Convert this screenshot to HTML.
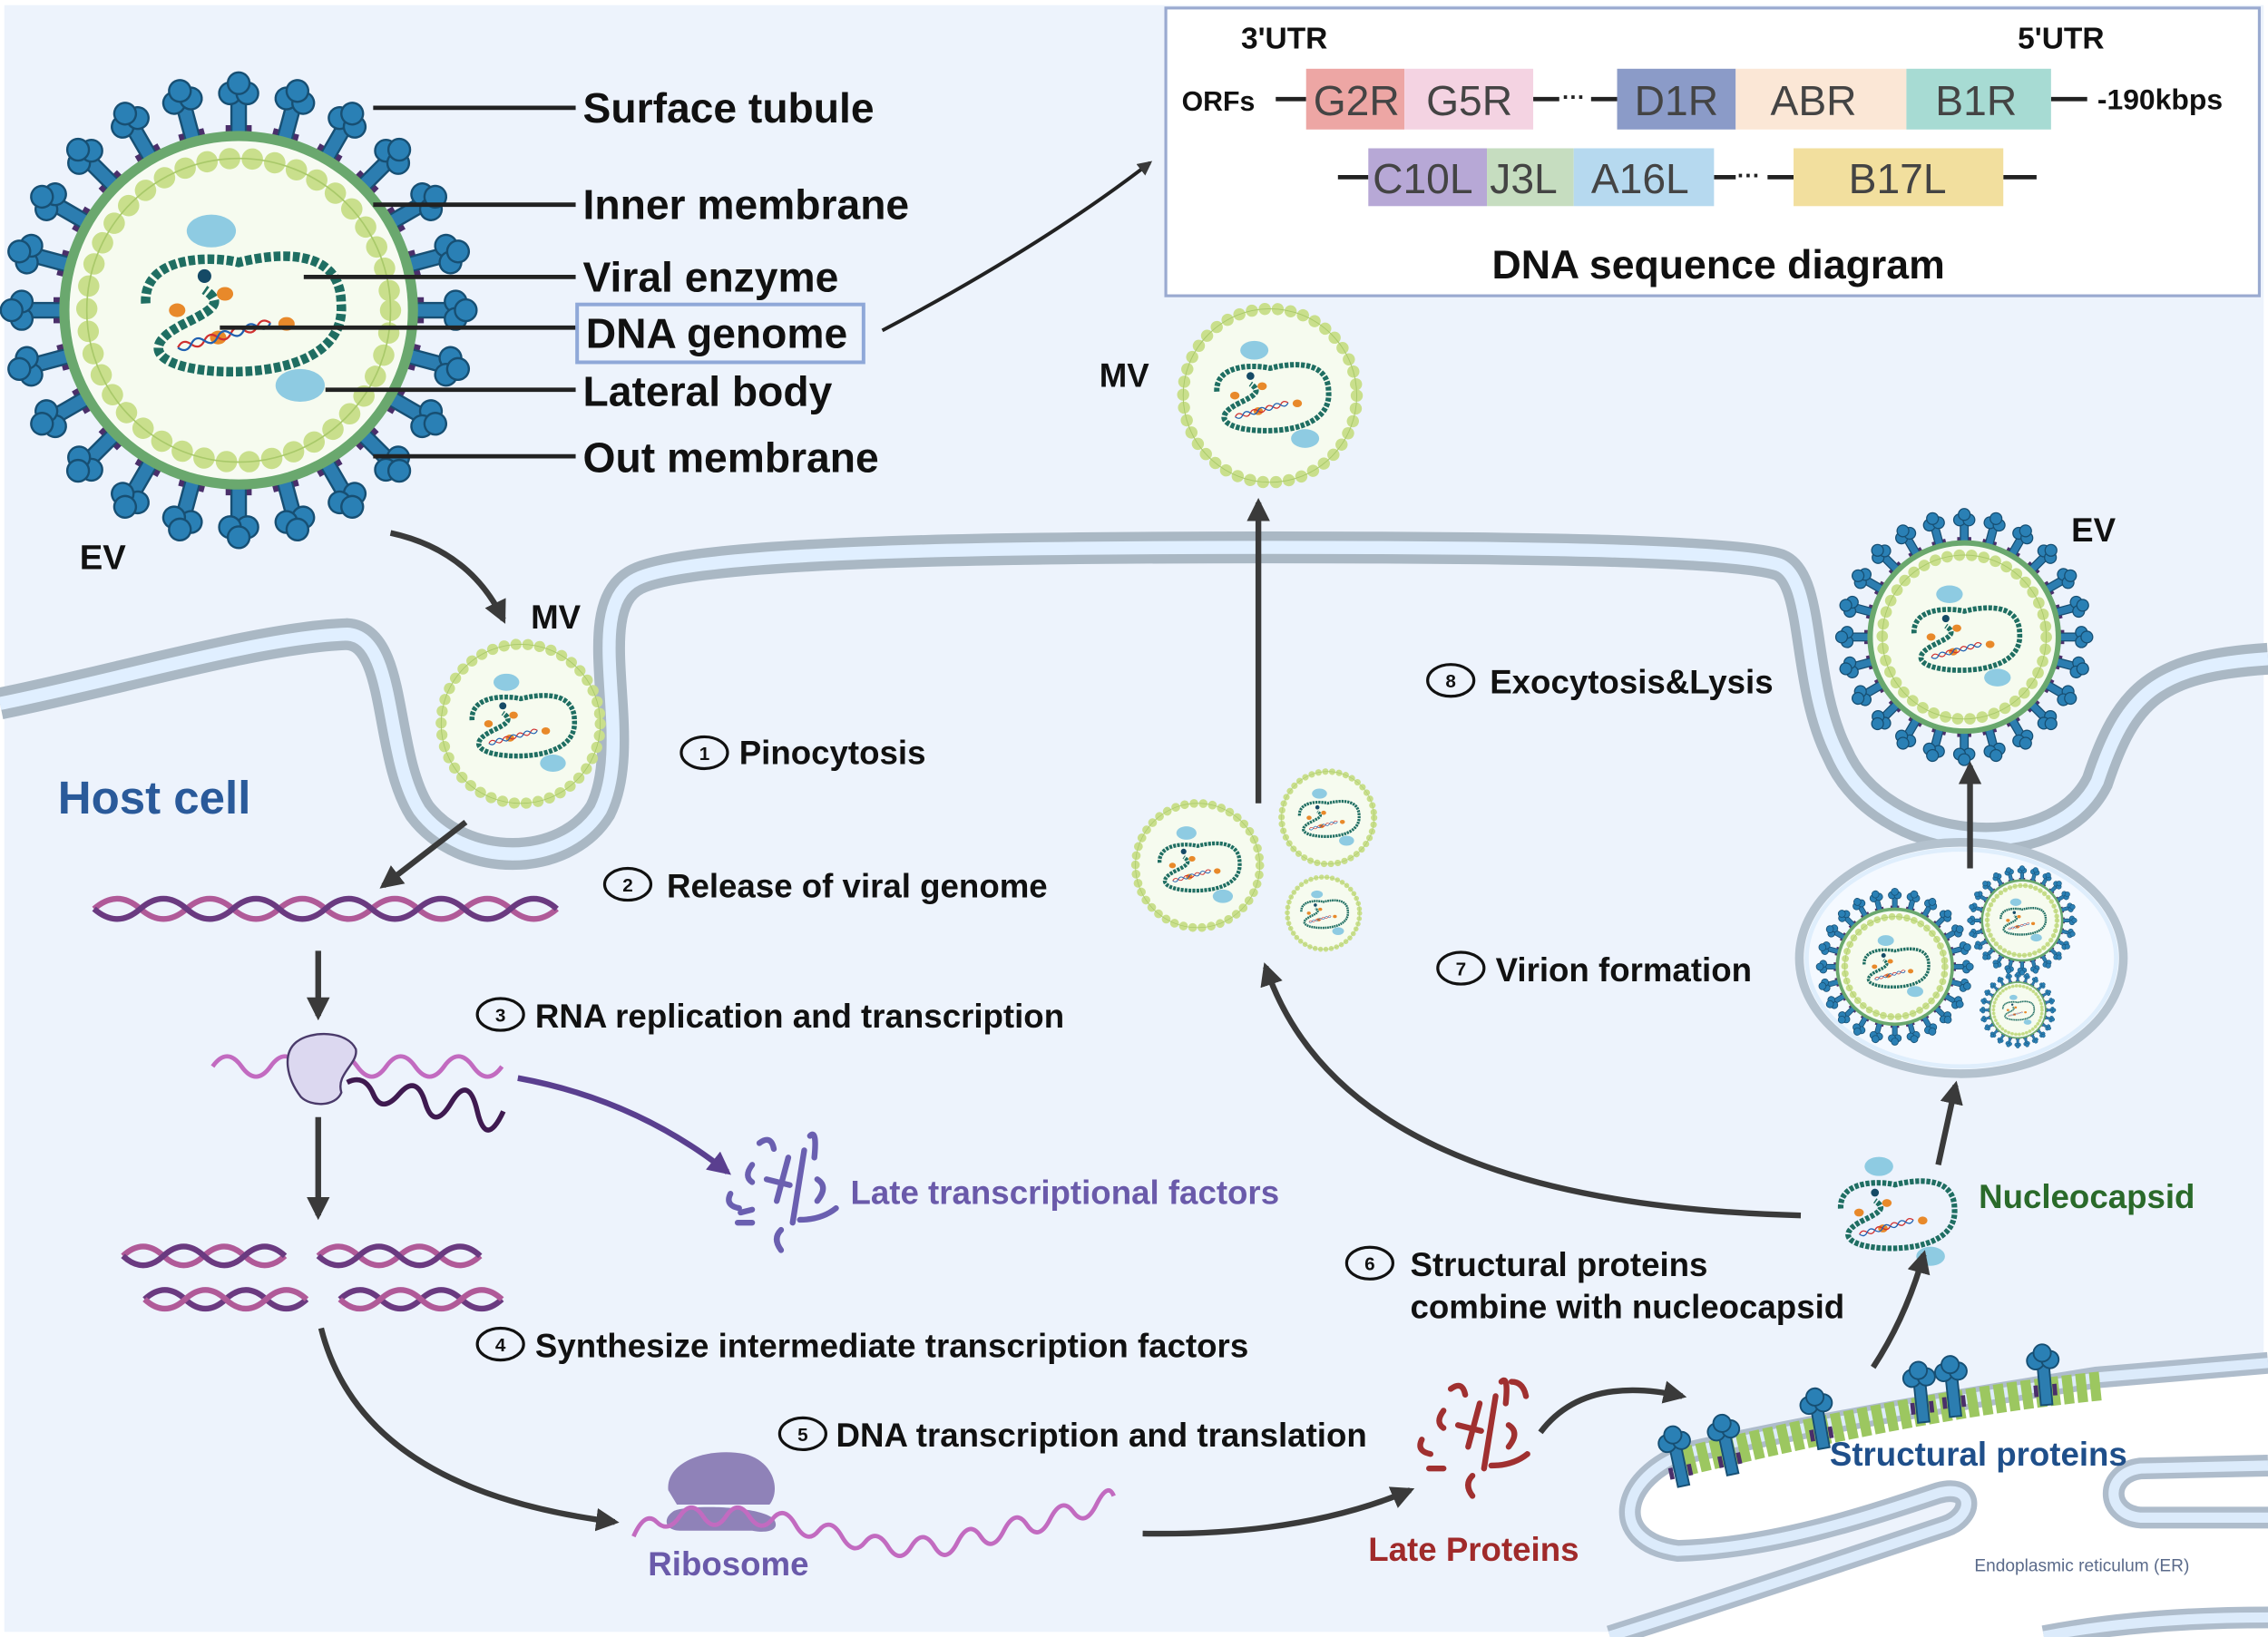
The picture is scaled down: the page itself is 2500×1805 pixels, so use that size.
<!DOCTYPE html>
<html><head><meta charset="utf-8"><style>
html,body{margin:0;padding:0;background:#fff;}
svg{display:block;}
text{font-family:"Liberation Sans",Arial,sans-serif;font-weight:bold;}
</style></head><body>
<svg width="2500" height="1805" viewBox="0 0 1568 1131" xmlns="http://www.w3.org/2000/svg">
<defs>
<marker id="ah" viewBox="0 0 10 10" refX="8" refY="5" markerWidth="4" markerHeight="4" orient="auto"><path d="M0 0L10 5L0 10z" fill="#3a3a3a"/></marker>
<marker id="ahp" viewBox="0 0 10 10" refX="8" refY="5" markerWidth="4" markerHeight="4" orient="auto"><path d="M0 0L10 5L0 10z" fill="#5a3f8f"/></marker>
<g id="sp">
<rect x="-5" y="-148" width="10" height="36" fill="#2c7db0" stroke="#174f73" stroke-width="1.5"/>
<rect x="-9" y="-128" width="3.5" height="8" fill="#4a2f6a"/><rect x="5.5" y="-128" width="3.5" height="8" fill="#4a2f6a"/>
<circle cx="-6" cy="-150" r="7.5" fill="#2a80b5" stroke="#174f73" stroke-width="1.5"/>
<circle cx="6" cy="-150" r="7.5" fill="#2a80b5" stroke="#174f73" stroke-width="1.5"/>
<circle cx="0" cy="-157" r="7.5" fill="#2a80b5" stroke="#174f73" stroke-width="1.5"/>
</g>
<g id="pr">
<rect x="-4" y="-28" width="8" height="28" fill="#2c7db0" stroke="#174f73" stroke-width="1.2"/>
<rect x="-8" y="-14" width="3" height="8" fill="#4a2f6a"/><rect x="5" y="-14" width="3" height="8" fill="#4a2f6a"/>
<circle cx="-5" cy="-31" r="6" fill="#2a80b5" stroke="#174f73" stroke-width="1.2"/>
<circle cx="5" cy="-31" r="6" fill="#2a80b5" stroke="#174f73" stroke-width="1.2"/>
<circle cx="0" cy="-36" r="6" fill="#2a80b5" stroke="#174f73" stroke-width="1.2"/>
</g>
<g id="core">
<path d="M-68 -5 C-70 -40 -20 -40 0 -35 C40 -45 75 -40 75 -5 C78 30 40 45 -5 45 C-50 45 -80 30 -40 10 C-20 0 -10 -5 -25 -15" fill="none" stroke="#1f6e62" stroke-width="7" stroke-dasharray="5 2"/>
<ellipse cx="-20" cy="-58" rx="18" ry="12" fill="#8ecbe2"/>
<ellipse cx="45" cy="55" rx="18" ry="12" fill="#8ecbe2"/>
<circle cx="-25" cy="-25" r="5" fill="#154a66"/>
<ellipse cx="-45" cy="0" rx="6" ry="5" fill="#e8892a"/><ellipse cx="-10" cy="-12" rx="6" ry="5" fill="#e8892a"/><ellipse cx="35" cy="10" rx="6" ry="5" fill="#e8892a"/><ellipse cx="-15" cy="20" rx="6" ry="5" fill="#e8892a"/>
<path d="M-50 15 q5 -6 10 0 t10 0 t10 0 t10 0 t10 0 t10 0 t10 0" transform="rotate(-15)" fill="none" stroke="#d03030" stroke-width="1.5"/>
<path d="M-50 15 q5 6 10 0 t10 0 t10 0 t10 0 t10 0 t10 0 t10 0" transform="rotate(-15)" fill="none" stroke="#2060b0" stroke-width="1.5"/>
</g>
<g id="mv">
<circle r="100" fill="#f6fbef"/>
<circle r="100" fill="none" stroke="#c9df8c" stroke-width="14" stroke-dasharray="0.1 14.9" stroke-linecap="round"/>
<circle r="100" fill="none" stroke="#a9c96a" stroke-width="1"/>
<use href="#core" transform="scale(0.9)"/>
</g>
<g id="evs">
<use href="#sp" transform="rotate(0)"/><use href="#sp" transform="rotate(15)"/><use href="#sp" transform="rotate(30)"/><use href="#sp" transform="rotate(45)"/><use href="#sp" transform="rotate(60)"/><use href="#sp" transform="rotate(75)"/><use href="#sp" transform="rotate(90)"/><use href="#sp" transform="rotate(105)"/><use href="#sp" transform="rotate(120)"/><use href="#sp" transform="rotate(135)"/><use href="#sp" transform="rotate(150)"/><use href="#sp" transform="rotate(165)"/><use href="#sp" transform="rotate(180)"/><use href="#sp" transform="rotate(195)"/><use href="#sp" transform="rotate(210)"/><use href="#sp" transform="rotate(225)"/><use href="#sp" transform="rotate(240)"/><use href="#sp" transform="rotate(255)"/><use href="#sp" transform="rotate(270)"/><use href="#sp" transform="rotate(285)"/><use href="#sp" transform="rotate(300)"/><use href="#sp" transform="rotate(315)"/><use href="#sp" transform="rotate(330)"/><use href="#sp" transform="rotate(345)"/>
<circle r="124" fill="#6aa86e"/>
<circle r="117" fill="#f7fbf2"/>
<use href="#mv" transform="scale(1.05)"/>
</g>
</defs>
<rect width="1568" height="1131" fill="#ffffff"/>
<rect x="3" y="3" width="1562" height="1125" fill="#edf3fc"/>

<!-- membrane -->
<path d="M0 486 C80 470 180 440 240 438 C275 440 265 520 290 560 C320 600 390 600 415 560 C440 510 400 420 440 400 C480 380 700 378 880 378 C1050 378 1200 380 1230 390 C1255 400 1245 470 1270 520 C1300 590 1420 600 1450 540 C1470 480 1490 460 1568 455" fill="none" stroke="#aab8c4" stroke-width="22"/>
<path d="M0 486 C80 470 180 440 240 438 C275 440 265 520 290 560 C320 600 390 600 415 560 C440 510 400 420 440 400 C480 380 700 378 880 378 C1050 378 1200 380 1230 390 C1255 400 1245 470 1270 520 C1300 590 1420 600 1450 540 C1470 480 1490 460 1568 455" fill="none" stroke="#e0efff" stroke-width="9"/>

<!-- ER -->
<path d="M1568 942 L1450 952 C1350 968 1250 985 1167 1004 C1120 1020 1110 1065 1160 1072 C1230 1070 1300 1045 1340 1032 C1365 1025 1365 1048 1345 1055 C1270 1080 1180 1110 1113 1131 L1568 1131 Z" fill="#ffffff"/>
<g fill="none">
<path d="M1568 942 L1450 952 C1350 968 1250 985 1167 1004 C1120 1020 1110 1065 1160 1072 C1230 1070 1300 1045 1340 1032 C1365 1025 1365 1048 1345 1055 C1270 1080 1180 1110 1113 1131" stroke="#aebccb" stroke-width="15"/>
<path d="M1568 942 L1450 952 C1350 968 1250 985 1167 1004 C1120 1020 1110 1065 1160 1072 C1230 1070 1300 1045 1340 1032 C1365 1025 1365 1048 1345 1055 C1270 1080 1180 1110 1113 1131" stroke="#dcebfb" stroke-width="7"/>
<path d="M1568 1013 L1480 1015 C1455 1018 1455 1047 1480 1049 L1568 1049" stroke="#aebccb" stroke-width="15"/>
<path d="M1568 1013 L1480 1015 C1455 1018 1455 1047 1480 1049 L1568 1049" stroke="#dcebfb" stroke-width="7"/>
<path d="M1413 1131 C1470 1120 1530 1118 1568 1118" stroke="#aebccb" stroke-width="15"/>
<path d="M1413 1131 C1470 1120 1530 1118 1568 1118" stroke="#dcebfb" stroke-width="7"/>
<path d="M1165 1010 C1250 990 1350 968 1452 958" stroke="#9cc760" stroke-width="20" stroke-dasharray="7 2.5"/>
</g>
<use href="#pr" transform="translate(1164 1027) rotate(-12)"/>
<use href="#pr" transform="translate(1198 1019) rotate(-12)"/>
<use href="#pr" transform="translate(1261 1001) rotate(-10)"/>
<use href="#pr" transform="translate(1330 983) rotate(-6)"/>
<use href="#pr" transform="translate(1352 979) rotate(-6)"/>
<use href="#pr" transform="translate(1415 971) rotate(-5)"/>
<text x="1365" y="1086" font-size="12" fill="#5a6a8a" style="font-weight:normal">Endoplasmic reticulum (ER)</text>
<text x="1265" y="1013" font-size="23" fill="#1f4f8a">Structural proteins</text>

<!-- big EV -->
<use href="#evs" transform="translate(165 214)"/>
<text x="55" y="393" font-size="24" fill="#111">EV</text>
<g stroke="#222" stroke-width="3">
<line x1="258" y1="74" x2="398" y2="74"/><line x1="258" y1="141" x2="398" y2="141"/><line x1="210" y1="191" x2="398" y2="191"/><line x1="152" y1="226" x2="398" y2="226"/><line x1="225" y1="269" x2="398" y2="269"/><line x1="258" y1="315" x2="398" y2="315"/>
</g>
<g font-size="29" fill="#111">
<text x="403" y="84">Surface tubule</text><text x="403" y="151">Inner membrane</text><text x="403" y="201">Viral enzyme</text><text x="405" y="240">DNA genome</text><text x="403" y="280">Lateral body</text><text x="403" y="326">Out membrane</text>
</g>
<rect x="399" y="210" width="198" height="40" fill="none" stroke="#8fa8d8" stroke-width="2.5"/>

<!-- DNA box -->
<rect x="806" y="5" width="756" height="199" fill="#fff" stroke="#9aaad0" stroke-width="2"/>
<g font-size="21" fill="#111"><text x="858" y="33">3'UTR</text><text x="1395" y="33">5'UTR</text><text x="817" y="76" font-size="19">ORFs</text><text x="1450" y="75" font-size="20">-190kbps</text></g>
<g stroke="#222" stroke-width="3">
<line x1="882" y1="68" x2="903" y2="68"/><line x1="1060" y1="68" x2="1078" y2="68"/><line x1="1100" y1="68" x2="1118" y2="68"/><line x1="1418" y1="68" x2="1443" y2="68"/>
<line x1="925" y1="122" x2="946" y2="122"/><line x1="1185" y1="122" x2="1200" y2="122"/><line x1="1222" y1="122" x2="1240" y2="122"/><line x1="1385" y1="122" x2="1408" y2="122"/>
</g>
<text x="1080" y="72" font-size="16" fill="#222">···</text><text x="1201" y="126" font-size="16" fill="#222">···</text>
<rect x="903" y="47" width="68" height="42" fill="#eda6a4"/><rect x="971" y="47" width="89" height="42" fill="#f4d3e2"/>
<rect x="1118" y="47" width="82" height="42" fill="#8b9bc8"/><rect x="1200" y="47" width="118" height="42" fill="#fbe7d6"/><rect x="1318" y="47" width="100" height="42" fill="#a7dbd3"/>
<rect x="946" y="102" width="82" height="40" fill="#b7a8d6"/><rect x="1028" y="102" width="60" height="40" fill="#c6ddc0"/><rect x="1088" y="102" width="97" height="40" fill="#b6d9ef"/><rect x="1240" y="102" width="145" height="40" fill="#f2df9e"/>
<g font-size="29" fill="#444">
<text x="908" y="79" style="font-weight:normal">G2R</text><text x="986" y="79" style="font-weight:normal">G5R</text><text x="1130" y="79" style="font-weight:normal">D1R</text><text x="1224" y="79" style="font-weight:normal">ABR</text><text x="1338" y="79" style="font-weight:normal">B1R</text>
<text x="949" y="133" style="font-weight:normal">C10L</text><text x="1030" y="133" style="font-weight:normal">J3L</text><text x="1100" y="133" style="font-weight:normal">A16L</text><text x="1278" y="133" style="font-weight:normal">B17L</text>
</g>
<text x="1188" y="192" font-size="28" fill="#111" text-anchor="middle">DNA sequence diagram</text>
<path d="M610 228 Q720 170 795 112" fill="none" stroke="#222" stroke-width="2.5" marker-end="url(#ah)"/>

<!-- MVs -->
<use href="#mv" transform="translate(360 500) scale(0.55)"/>
<text x="367" y="434" font-size="23" fill="#111">MV</text>
<use href="#mv" transform="translate(878 273) scale(0.6)"/>
<text x="760" y="267" font-size="23" fill="#111">MV</text>
<use href="#mv" transform="translate(828 598) scale(0.43)"/>
<use href="#mv" transform="translate(918 565) scale(0.32)"/>
<use href="#mv" transform="translate(915 631) scale(0.25)"/>

<!-- EV right -->
<use href="#evs" transform="translate(1358 440) scale(0.54)"/>
<text x="1432" y="374" font-size="23" fill="#111">EV</text>

<!-- vesicle -->
<ellipse cx="1356" cy="662" rx="112" ry="80" fill="#f4f9ff" stroke="#b4c2ce" stroke-width="6"/>
<ellipse cx="1356" cy="662" rx="107" ry="75" fill="none" stroke="#dfeefc" stroke-width="3"/>
<use href="#evs" transform="translate(1310 668) scale(0.33)"/>
<use href="#evs" transform="translate(1398 636) scale(0.23)"/>
<use href="#evs" transform="translate(1395 698) scale(0.16)"/>

<!-- nucleocapsid -->
<use href="#core" transform="translate(1310 838) scale(0.55)"/>
<text x="1368" y="835" font-size="23" fill="#2a6a2a">Nucleocapsid</text>

<text x="40" y="562" font-size="32" fill="#2a5a9a">Host cell</text>

<!-- DNA helix 1 -->
<path d="M65 628 q16 -14 32 0 t32 0 t32 0 t32 0 t32 0 t32 0 t32 0 t32 0 t32 0 t32 0" fill="none" stroke="#b05a98" stroke-width="4"/>
<path d="M65 628 q16 14 32 0 t32 0 t32 0 t32 0 t32 0 t32 0 t32 0 t32 0 t32 0 t32 0" fill="none" stroke="#6a3a80" stroke-width="4"/>
<g stroke-width="4" fill="none">
<path d="M85 868 q14 -13 28 0 t28 0 t28 0 t28 0" stroke="#b05a98"/><path d="M85 868 q14 13 28 0 t28 0 t28 0 t28 0" stroke="#6a3a80"/>
<path d="M220 868 q14 -13 28 0 t28 0 t28 0 t28 0" stroke="#b05a98"/><path d="M220 868 q14 13 28 0 t28 0 t28 0 t28 0" stroke="#6a3a80"/>
<path d="M100 898 q14 -13 28 0 t28 0 t28 0 t28 0" stroke="#6a3a80"/><path d="M100 898 q14 13 28 0 t28 0 t28 0 t28 0" stroke="#b05a98"/>
<path d="M235 898 q14 -13 28 0 t28 0 t28 0 t28 0" stroke="#6a3a80"/><path d="M235 898 q14 13 28 0 t28 0 t28 0 t28 0" stroke="#b05a98"/>
</g>
<!-- RNA + polymerase -->
<path d="M147 737 q10 -14 20 0 t20 0 t20 0 t20 0 t20 0 t20 0 t20 0 t20 0 t20 0 t20 0" fill="none" stroke="#c26bc0" stroke-width="3"/>
<path d="M240 748 q12 -6 18 8 t18 0 t18 6 t18 0 t18 6 t18 0" fill="none" stroke="#3f1a50" stroke-width="3.5"/>
<path d="M205 720 C215 712 240 712 246 725 C248 735 232 742 236 755 C232 765 215 765 208 758 C198 745 195 728 205 720z" fill="#dcd8f0" stroke="#4a3a6a" stroke-width="1.5"/>
<!-- late transcriptional factors -->
<g fill="none" stroke="#6a5fb0" stroke-width="4" stroke-linecap="round">
<path d="M525 790 q8 -6 10 4"/><path d="M520 805 q-6 8 0 12"/><path d="M545 800 l-8 30"/><path d="M530 815 l16 4"/><path d="M556 795 l-8 50"/><path d="M560 785 q5 -5 3 15"/><path d="M565 815 q8 5 0 15"/><path d="M505 825 q-4 8 6 10"/><path d="M553 843 q15 0 25 -8"/><path d="M510 845 l10 0"/><path d="M540 850 q-6 6 0 14"/><path d="M512 838 l8 -2"/>
</g>
<text x="588" y="832" font-size="23" fill="#6a5aaa">Late transcriptional factors</text>
<!-- ribosome -->
<path d="M462 1030 C460 1010 490 1000 515 1005 C535 1010 540 1030 532 1040 L468 1040 Z" fill="#8f82b8"/>
<path d="M465 1045 C470 1040 525 1040 535 1050 C540 1058 530 1060 520 1058 L470 1058 C460 1058 458 1050 465 1045z" fill="#8f82b8"/>
<path d="M438 1062 q8 -18 16 -10 t16 -4 t16 0 t16 0 t16 0 t16 2 t16 4 t16 4 t16 4 t16 4 t16 3 t16 0 t16 0 t16 -3 t16 -4 t16 -4 t16 -4 t16 -4 t16 -5 t16 -5 t12 -6" fill="none" stroke="#c26bc0" stroke-width="3"/>
<text x="448" y="1089" font-size="23" fill="#6a5aaa">Ribosome</text>
<!-- late proteins -->
<g fill="none" stroke="#a03030" stroke-width="4" stroke-linecap="round">
<path d="M1003 960 q8 -6 10 4"/><path d="M998 975 q-6 8 0 12"/><path d="M1023 970 l-8 30"/><path d="M1008 985 l16 4"/><path d="M1034 965 l-8 50"/><path d="M1038 955 q5 -5 3 15"/><path d="M1043 985 q8 5 0 15"/><path d="M983 995 q-4 8 6 10"/><path d="M1031 1013 q15 0 25 -8"/><path d="M988 1015 l10 0"/><path d="M1018 1020 q-6 6 0 14"/><path d="M1045 955 q8 0 10 10"/>
</g>
<text x="946" y="1079" font-size="23" fill="#a02a2a">Late Proteins</text>

<!-- arrows -->
<g fill="none" stroke="#3a3a3a" stroke-width="4">
<path d="M270 368 Q325 380 348 428" marker-end="url(#ah)"/>
<path d="M322 568 L265 612" marker-end="url(#ah)"/>
<path d="M220 657 L220 702" marker-end="url(#ah)"/>
<path d="M220 772 L220 840" marker-end="url(#ah)"/>
<path d="M222 918 Q250 1030 425 1052" marker-end="url(#ah)"/>
<path d="M790 1060 Q900 1062 975 1030" marker-end="url(#ah)"/>
<path d="M1065 990 Q1095 950 1163 965" marker-end="url(#ah)"/>
<path d="M1295 945 Q1318 910 1330 867" marker-end="url(#ah)"/>
<path d="M1340 805 L1352 750" marker-end="url(#ah)"/>
<path d="M1362 600 L1362 529" marker-end="url(#ah)"/>
<path d="M1245 840 Q930 832 875 668" marker-end="url(#ah)"/>
<path d="M870 555 L870 347" marker-end="url(#ah)"/>
</g>
<path d="M358 745 Q440 760 503 810" fill="none" stroke="#5a3f8f" stroke-width="4" marker-end="url(#ahp)"/>

<!-- steps -->
<g fill="none" stroke="#111" stroke-width="2"><ellipse cx="487" cy="520" rx="16" ry="11"/><ellipse cx="434" cy="611" rx="16" ry="11"/><ellipse cx="346" cy="701" rx="16" ry="11"/><ellipse cx="346" cy="929" rx="16" ry="11"/><ellipse cx="555" cy="991" rx="16" ry="11"/><ellipse cx="947" cy="873" rx="16" ry="11"/><ellipse cx="1010" cy="669" rx="16" ry="11"/><ellipse cx="1003" cy="470" rx="16" ry="11"/></g>
<g font-size="13" fill="#111" text-anchor="middle"><text x="487" y="525">1</text><text x="434" y="616">2</text><text x="346" y="706">3</text><text x="346" y="934">4</text><text x="555" y="996">5</text><text x="947" y="878">6</text><text x="1010" y="674">7</text><text x="1003" y="475">8</text></g>
<g font-size="23" fill="#111">
<text x="511" y="528">Pinocytosis</text>
<text x="461" y="620">Release of viral genome</text>
<text x="370" y="710">RNA replication and transcription</text>
<text x="370" y="938">Synthesize intermediate transcription factors</text>
<text x="578" y="1000">DNA transcription and translation</text>
<text x="975" y="882">Structural proteins</text>
<text x="975" y="911">combine with nucleocapsid</text>
<text x="1034" y="678">Virion formation</text>
<text x="1030" y="479">Exocytosis&amp;Lysis</text>
</g>
</svg>
</body></html>
